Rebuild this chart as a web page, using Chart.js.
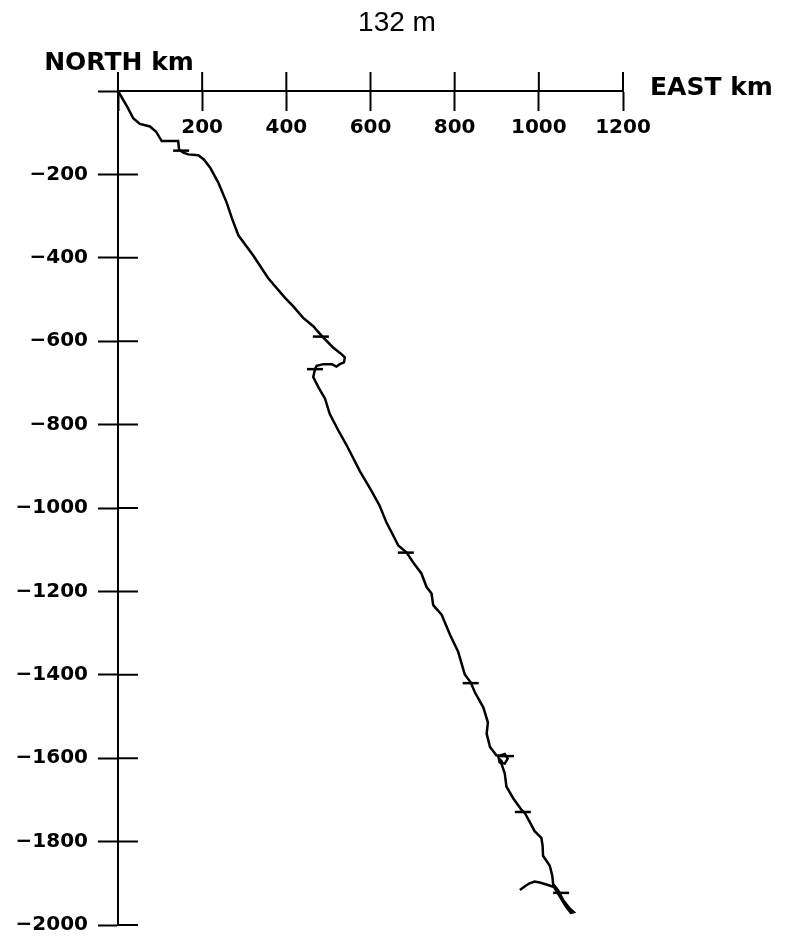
<!DOCTYPE html>
<html>
<head>
<meta charset="utf-8">
<script src="https://cdn.jsdelivr.net/npm/chart.js@4"></script>
<style>
  html, body { margin: 0; padding: 0; background: #fff; }
  #wrap { width: 798px; height: 947px; }
</style>
</head>
<body>
<div id="wrap"><canvas id="track"></canvas></div>
<script>
// Progressive vector track, km from the origin
const trackEast = [0, 7, 21, 36, 52, 76, 90, 104, 143, 145, 154, 167, 191, 204, 219, 238, 258, 271, 286, 321, 357,
  397, 416, 440, 464, 484, 511, 531, 539, 537, 527, 519, 508, 488, 472, 468, 464, 476, 492, 503, 523, 543,
  575, 603, 622, 638, 654, 666, 686, 701, 721, 733, 745, 749, 769, 789, 808, 824, 838, 848, 868, 879, 876,
  884, 899, 907, 919, 926, 919, 907, 905, 912, 911, 919, 923, 939, 959, 967, 978, 990, 1006, 1009, 1010,
  1026, 1032, 1034, 1046, 1058, 1074, 1083, 1076, 1064, 1050, 1036, 1018, 1002, 990, 978, 967, 955];
const trackNorth = [0, -12, -36, -65, -79, -85, -97, -120, -120, -140, -147, -152, -154, -164, -184, -219, -267, -306, -346, -394, -449,
  -496, -516, -544, -564, -587, -615, -631, -639, -651, -655, -661, -655, -655, -659, -667, -686, -710, -738, -774, -813, -849,
  -912, -960, -995, -1035, -1066, -1090, -1107, -1130, -1157, -1189, -1205, -1233, -1256, -1304, -1344, -1399, -1418, -1442, -1478, -1514, -1541,
  -1573, -1593, -1594, -1590, -1601, -1613, -1610, -1601, -1608, -1613, -1636, -1668, -1696, -1724, -1732, -1752, -1775, -1791, -1810, -1834,
  -1858, -1882, -1902, -1917, -1941, -1961, -1969, -1971, -1955, -1932, -1909, -1903, -1898, -1896, -1900, -1907, -1916];

// short horizontal bars marking positions along the track
const markEast = [150, 482, 468, 684, 838, 922, 962, 1053];
const markNorth = [-143, -589, -667, -1107, -1420, -1595, -1729, -1923];

const eastTicks = [0, 200, 400, 600, 800, 1000, 1200];
const northTicks = [0, -200, -400, -600, -800, -1000, -1200, -1400, -1600, -1800, -2000];

const chartTitle = '132 m';
const northLabel = 'NORTH km';
const eastLabel = 'EAST km';

const trackPoints = trackEast.map((e, i) => ({ x: e, y: trackNorth[i] }));
const markPoints = markEast.map((e, i) => ({ x: e, y: markNorth[i] }));

const TICK = 19;
const tickFont = { family: 'DejaVu Sans', size: 20, weight: 'bold' };

// other half of the crossing ticks, plus title and axis names
const axisExtras = {
  id: 'axisExtras',
  afterDraw(chart) {
    const ctx = chart.ctx;
    const xs = chart.scales.x;
    const ys = chart.scales.y;
    const x0 = xs.getPixelForValue(0);
    const y0 = ys.getPixelForValue(0);
    ctx.save();
    ctx.strokeStyle = '#000';
    ctx.lineWidth = 2;
    ctx.beginPath();
    eastTicks.forEach(v => {
      const px = xs.getPixelForValue(v);
      ctx.moveTo(px, y0);
      ctx.lineTo(px, y0 - TICK);
    });
    northTicks.forEach(v => {
      const py = ys.getPixelForValue(v);
      ctx.moveTo(x0, py);
      ctx.lineTo(x0 + TICK + 1, py);
    });
    ctx.stroke();

    ctx.fillStyle = '#000';
    ctx.textBaseline = 'alphabetic';
    ctx.textAlign = 'center';
    ctx.font = '28px "Liberation Sans"';
    ctx.fillText(chartTitle, 397, 31);

    ctx.font = 'bold 25px "DejaVu Sans"';
    ctx.fillText(northLabel, x0 + 1, y0 - 21);
    ctx.textAlign = 'left';
    ctx.fillText(eastLabel, xs.getPixelForValue(1200) + 27, y0 + 4);
    ctx.restore();
  }
};

Chart.defaults.color = '#000';

new Chart(document.getElementById('track'), {
  type: 'scatter',
  data: {
    datasets: [
      {
        data: trackPoints,
        showLine: true,
        borderColor: '#000',
        borderWidth: 2.5,
        pointRadius: 0,
        tension: 0,
        clip: false
      },
      {
        data: markPoints,
        showLine: false,
        pointStyle: 'line',
        pointRadius: 8,
        borderColor: '#000',
        borderWidth: 2.5,
        clip: false
      }
    ]
  },
  options: {
    responsive: true,
    maintainAspectRatio: false,
    animation: false,
    layout: { padding: { left: 0, right: 175, top: 91, bottom: 15 } },
    plugins: {
      legend: { display: false },
      tooltip: { enabled: false },
      title: { display: false }
    },
    scales: {
      x: {
        type: 'linear',
        position: { y: 0 },
        min: 0,
        max: 1200,
        afterBuildTicks: axis => { axis.ticks = eastTicks.map(v => ({ value: v })); },
        grid: { display: true, drawOnChartArea: false, drawTicks: true, tickLength: TICK, tickWidth: 2, tickColor: '#000' },
        border: { display: true, color: '#000', width: 2 },
        ticks: {
          font: tickFont,
          padding: 6,
          maxRotation: 0,
          callback: v => (v === 0 ? '' : String(v))
        }
      },
      y: {
        type: 'linear',
        position: 'left',
        min: -2000,
        max: 0,
        afterBuildTicks: axis => { axis.ticks = northTicks.map(v => ({ value: v })); },
        afterFit: axis => { axis.width = 118; },
        grid: { display: true, drawOnChartArea: false, drawTicks: true, tickLength: TICK + 1, tickWidth: 2, tickColor: '#000' },
        border: { display: true, color: '#000', width: 2 },
        ticks: {
          font: tickFont,
          padding: 10,
          callback: v => (v === 0 ? '' : '\u2212' + Math.abs(v))
        }
      }
    }
  },
  plugins: [axisExtras]
});
</script>
</body>
</html>
